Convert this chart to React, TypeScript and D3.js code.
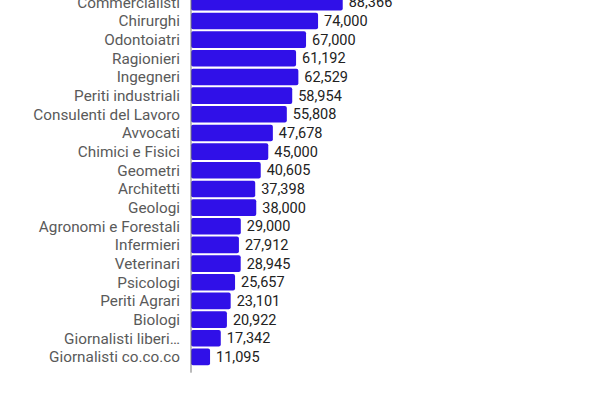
import React from "react";
import * as d3 from "d3";

const categories = [
  "Commercialisti",
  "Chirurghi",
  "Odontoiatri",
  "Ragionieri",
  "Ingegneri",
  "Periti industriali",
  "Consulenti del Lavoro",
  "Avvocati",
  "Chimici e Fisici",
  "Geometri",
  "Architetti",
  "Geologi",
  "Agronomi e Forestali",
  "Infermieri",
  "Veterinari",
  "Psicologi",
  "Periti Agrari",
  "Biologi",
  "Giornalisti liberi…",
  "Giornalisti co.co.co",
];

const values = [
  88366, 74000, 67000, 61192, 62529, 58954, 55808, 47678, 45000, 40605,
  37398, 38000, 29000, 27912, 28945, 25657, 23101, 20922, 17342, 11095,
];

const width = 600;
const height = 400;
const margin = { left: 191, top: -13.5, bottom: 27.3 };

const App: React.FC = () => {
  const x = d3
    .scaleLinear()
    .domain([0, 100000])
    .range([margin.left, margin.left + 171.7]);

  const y = d3
    .scaleBand()
    .domain(categories)
    .range([margin.top, height - margin.bottom])
    .paddingInner(0.11)
    .paddingOuter(0.4);

  const fmt = d3.format(",");

  return (
    <svg
      width={width}
      height={height}
      style={{ position: "absolute", left: 0, top: 0, background: "#fff" }}
      fontFamily="Roboto, sans-serif"
    >
      {/* bars */}
      {categories.map((c, i) => (
        <rect
          key={c}
          x={x(0)}
          y={y(c)}
          width={x(values[i]) - x(0)}
          height={y.bandwidth()}
          rx={2}
          fill="#3010e8"
        />
      ))}

      {/* axis line */}
      <line
        x1={x(0)}
        x2={x(0)}
        y1={0}
        y2={height - margin.bottom}
        stroke="#777"
        strokeWidth={1}
      />

      {/* category labels */}
      {categories.map((c) => (
        <text
          key={c}
          x={x(0) - 11}
          y={(y(c) || 0) + y.bandwidth() / 2}
          dy="0.35em"
          textAnchor="end"
          fontSize={15.3}
          fill="#5a5a5a"
        >
          {c}
        </text>
      ))}

      {/* value labels */}
      {categories.map((c, i) => (
        <text
          key={c}
          x={x(values[i]) + 6}
          y={(y(c) || 0) + y.bandwidth() / 2}
          dy="0.35em"
          fontSize={14.5}
          fill="#222"
        >
          {fmt(values[i])}
        </text>
      ))}
    </svg>
  );
};

export default App;
